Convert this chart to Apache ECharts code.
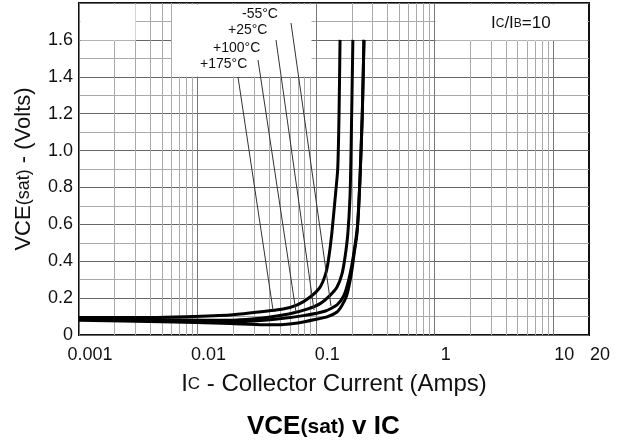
<!DOCTYPE html>
<html>
<head>
<meta charset="utf-8">
<script src="https://cdn.jsdelivr.net/npm/echarts@6/dist/echarts.min.js"></script>
<style>html,body{margin:0;padding:0;background:#fff}#c{width:626px;height:442px}</style>
</head>
<body>
<div id="c"></div>
<script>
// ---- data ----
const seriesNames = ['+175°C', '+100°C', '+25°C', '-55°C'];
const ic175  = [0.001, 0.004, 0.008, 0.0188, 0.03, 0.0526, 0.0694, 0.089, 0.108, 0.12, 0.1265, 0.135, 0.145, 0.152, 0.156, 0.159];
const vce175 = [0.095, 0.095, 0.099, 0.108, 0.122, 0.141, 0.163, 0.206, 0.26, 0.33, 0.40, 0.54, 0.75, 0.9, 1.2, 1.6];
const ic100  = [0.001, 0.005, 0.012, 0.0188, 0.03, 0.045, 0.06, 0.084, 0.108, 0.131, 0.15, 0.165, 0.175, 0.185, 0.193, 0.197, 0.204];
const vce100 = [0.088, 0.083, 0.08, 0.08, 0.088, 0.102, 0.115, 0.14, 0.17, 0.215, 0.26, 0.33, 0.42, 0.55, 0.75, 1.0, 1.6];
const ic25   = [0.001, 0.005, 0.0188, 0.045, 0.078, 0.12, 0.15, 0.17, 0.185, 0.2, 0.212, 0.224, 0.234, 0.245, 0.253];
const vce25  = [0.085, 0.078, 0.07, 0.085, 0.105, 0.13, 0.163, 0.21, 0.28, 0.38, 0.48, 0.6, 0.84, 1.2, 1.6];
const icM55  = [0.001, 0.005, 0.0188, 0.036, 0.05, 0.07, 0.1, 0.125, 0.15, 0.165, 0.18, 0.19, 0.2, 0.21, 0.221, 0.234, 0.245, 0.253];
const vceM55 = [0.08, 0.072, 0.062, 0.055, 0.056, 0.065, 0.085, 0.1, 0.125, 0.16, 0.21, 0.27, 0.35, 0.45, 0.55, 0.84, 1.2, 1.6];
const xMin = 0.001, xMax = 20;
const yMin = 0, yMax = 1.8, yStep = 0.2;
const gridDecades = [-3, -2, -1, 0, 1];
const gridMultipliers = [1, 2, 3, 4, 5, 6, 7, 8, 9];

// ---- build ----
const pairs = (xs, ys) => xs.map((x, i) => [x, ys[i]]);
const curveData = [pairs(ic175, vce175), pairs(ic100, vce100), pairs(ic25, vce25), pairs(icM55, vceM55)];

const gridVals = [];
gridDecades.forEach(d => gridMultipliers.forEach(m => {
  const v = +(m * Math.pow(10, d)).toPrecision(3);
  if (v >= xMin && v < xMax) gridVals.push({ v, major: m === 1 });
}));

const FONT = '"Liberation Sans", Arial, sans-serif';

const chart = echarts.init(document.getElementById('c'), null, { renderer: 'canvas' });

const series = curveData.map((d, i) => ({
  name: seriesNames[i],
  type: 'line',
  data: d,
  z: 3,
  smooth: 0.2,
  showSymbol: false,
  symbol: 'none',
  lineStyle: { color: '#000', width: 3 },
  animation: false,
  silent: true
}));

series.push({
  type: 'line',
  data: [],
  z: 1,
  silent: true,
  animation: false,
  markLine: {
    z: 1,
    silent: true,
    precision: 8,
    symbol: 'none',
    animation: false,
    label: { show: false },
    data: gridVals.map(g => ({
      xAxis: g.v,
      lineStyle: { type: 'solid', width: 1, color: g.major ? '#777' : '#aaa' }
    }))
  }
});

const option = {
  backgroundColor: '#fff',
  animation: false,
  title: {
    text: '{a|VCE}{b|(sat)}{a| v IC}',
    left: 242,
    top: 409,
    textStyle: {
      rich: {
        a: { fontFamily: FONT, fontSize: 26, fontWeight: 'bold', color: '#000' },
        b: { fontFamily: FONT, fontSize: 21, fontWeight: 'bold', color: '#000' }
      }
    }
  },
  grid: {
    left: 79, right: 37, top: 3, bottom: 107,
    show: true, borderColor: '#111', borderWidth: 2, backgroundColor: 'transparent'
  },
  xAxis: {
    type: 'log',
    logBase: 10,
    min: xMin,
    max: xMax,
    axisLine: { show: false },
    axisTick: { show: false },
    splitLine: { show: false },
    axisLabel: {
      show: true,
      showMaxLabel: true,
      showMinLabel: true,
      margin: 11,
      padding: [0, 0, 0, 22],
      fontFamily: FONT,
      fontSize: 18,
      color: '#111',
      formatter: v => String(+(+v).toPrecision(3))
    },
    name: '{a|I}{b|C}{a| - Collector Current (Amps)}',
    nameLocation: 'middle',
    nameGap: 37,
    nameTextStyle: {
      rich: {
        a: { fontFamily: FONT, fontSize: 24, color: '#111' },
        b: { fontFamily: FONT, fontSize: 17, color: '#111' }
      }
    }
  },
  yAxis: {
    type: 'value',
    min: yMin,
    max: yMax,
    interval: yStep,
    axisLine: { show: false },
    axisTick: { show: false },
    splitLine: { show: true, lineStyle: { color: '#666', width: 1 } },
    minorTick: { show: false, splitNumber: 2 },
    minorSplitLine: { show: true, lineStyle: { color: '#aaa', width: 1 } },
    axisLabel: {
      margin: 6,
      fontFamily: FONT,
      fontSize: 18,
      color: '#111',
      formatter: v => (Math.abs(v - yMax) < 1e-9 ? '' : (v === 0 ? '0' : v.toFixed(1)))
    },
    name: '{a|VCE}{b|(sat)}{a| - (Volts)}',
    nameLocation: 'middle',
    nameGap: 44,
    nameRotate: 90,
    nameTextStyle: {
      rich: {
        a: { fontFamily: FONT, fontSize: 22, color: '#111' },
        b: { fontFamily: FONT, fontSize: 18, color: '#111' }
      }
    }
  },
  graphic: [
    // white annotation areas
    { type: 'rect', z: 2, silent: true, shape: { x: 80.5, y: 4.5, width: 55, height: 36 }, style: { fill: '#fff' } },
    { type: 'rect', z: 2, silent: true, shape: { x: 172, y: 4.5, width: 139.5, height: 72 }, style: { fill: '#fff' } },
    { type: 'rect', z: 2, silent: true, shape: { x: 435.5, y: 4.5, width: 152, height: 36 }, style: { fill: '#fff' } },
    // leader lines
    { type: 'line', z: 4, silent: true, shape: { x1: 238, y1: 77, x2: 273, y2: 310 }, style: { stroke: '#333', lineWidth: 1 } },
    { type: 'line', z: 4, silent: true, shape: { x1: 258, y1: 60, x2: 296, y2: 312 }, style: { stroke: '#333', lineWidth: 1 } },
    { type: 'line', z: 4, silent: true, shape: { x1: 276, y1: 40, x2: 314, y2: 310 }, style: { stroke: '#333', lineWidth: 1 } },
    { type: 'line', z: 4, silent: true, shape: { x1: 291, y1: 23, x2: 331, y2: 306 }, style: { stroke: '#333', lineWidth: 1 } },
    // temperature labels
    { type: 'text', z: 5, left: 242, top: 7, style: { text: seriesNames[3], font: '14px ' + FONT, fill: '#111' } },
    { type: 'text', z: 5, left: 228, top: 23, style: { text: seriesNames[2], font: '14px ' + FONT, fill: '#111' } },
    { type: 'text', z: 5, left: 213, top: 41, style: { text: seriesNames[1], font: '14px ' + FONT, fill: '#111' } },
    { type: 'text', z: 5, left: 200, top: 57, style: { text: seriesNames[0], font: '14px ' + FONT, fill: '#111' } },
    // Ic/Ib label
    { type: 'text', z: 5, left: 491, top: 15, style: {
        text: '{a|I}{b|C}{a|/I}{b|B}{a|=10}',
        rich: {
          a: { fontFamily: FONT, fontSize: 17, fill: '#111', color: '#111' },
          b: { fontFamily: FONT, fontSize: 12, fill: '#111', color: '#111' }
        }
      } }
  ],
  series: series
};
chart.setOption(option);
</script>
</body>
</html>
